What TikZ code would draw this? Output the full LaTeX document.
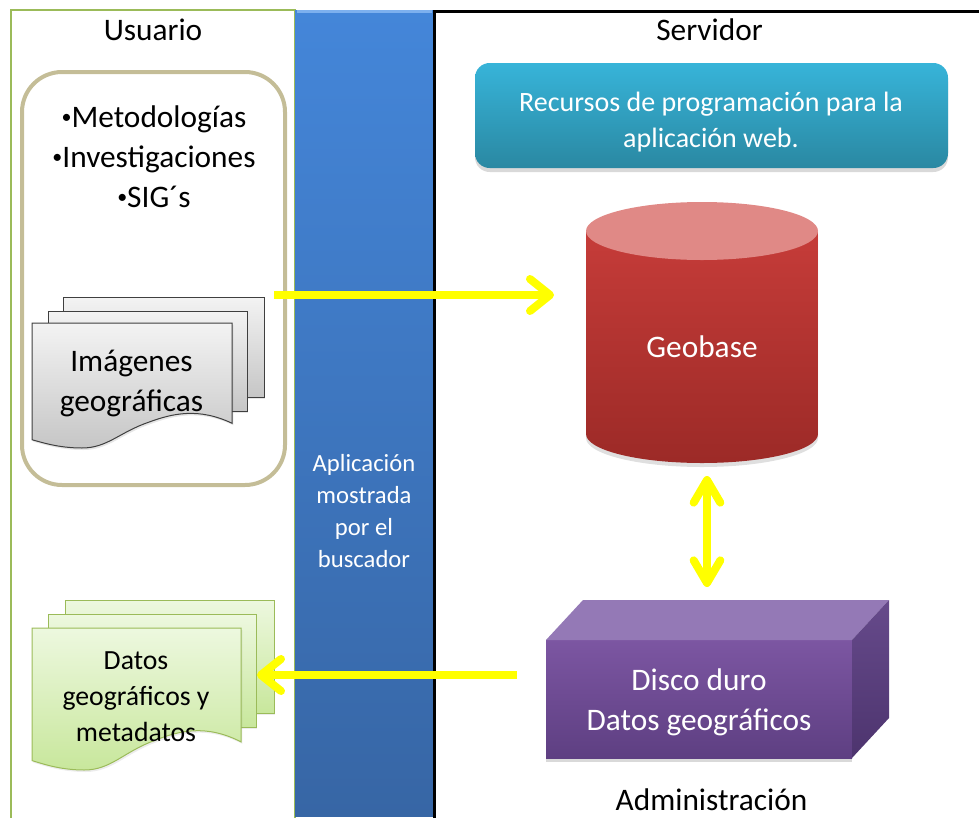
\documentclass[tikz,border=0pt]{standalone}
\usepackage{fontspec}
\setmainfont{Carlito}
\usetikzlibrary{arrows.meta,shadows}

\definecolor{panelgreen}{HTML}{9BBB59}
\definecolor{tanframe}{HTML}{C4BD97}
\definecolor{colblueA}{HTML}{4486D9}
\definecolor{colblueB}{HTML}{3766A5}
\definecolor{colblueEdge}{HTML}{7DB0EE}
\definecolor{docgrayA}{HTML}{F3F3F3}
\definecolor{docgrayB}{HTML}{C6C6C6}
\definecolor{docgrayLine}{HTML}{3F3F3F}
\definecolor{docgreenA}{HTML}{EDF8DF}
\definecolor{docgreenB}{HTML}{C8E79C}
\definecolor{cyanA}{HTML}{37B4D9}
\definecolor{cyanB}{HTML}{2A88A2}
\definecolor{cylTop}{HTML}{E08986}
\definecolor{cylA}{HTML}{C63C39}
\definecolor{cylB}{HTML}{9C2A27}
\definecolor{boxFrontA}{HTML}{7C56A2}
\definecolor{boxFrontB}{HTML}{5E3F82}
\definecolor{boxTop}{HTML}{9479B6}
\definecolor{boxSideA}{HTML}{664A8B}
\definecolor{boxSideB}{HTML}{4D346E}
\definecolor{flowyellow}{HTML}{FFFF00}

% small list bullet
\newcommand{\listbul}{\raisebox{3.3pt}{\fontsize{15}{15}\selectfont •}}

% a single sheet with the wavy lower edge, drawn in a unit box
\newcommand{\wavysheet}[5]{%
  \begin{scope}[shift={(#1,#2)}, x={(#3,0)}, y={(0,#4)}]
    \path[#5] (0,0) -- (1,0) -- (1,0.802)
      .. controls (0.833,0.676) and (0.704,0.722) .. (0.583,0.794)
      .. controls (0.438,0.873) and (0.377,1) .. (0.25,1)
      .. controls (0.129,1) and (0.044,0.952) .. (0,0.934) -- cycle;
  \end{scope}}

\begin{document}
\begin{tikzpicture}[x=0.75pt, y=-0.75pt,
  title/.style={font=\fontsize{23.5}{30}\selectfont, text=black, inner sep=0pt},
  graysheet/.style={draw=docgrayLine, line width=0.75pt, top color=docgrayA, bottom color=docgrayB,
                    drop shadow={opacity=0.2, shadow xshift=1pt, shadow yshift=-1.5pt}},
  greensheet/.style={draw=panelgreen, line width=0.75pt, top color=docgreenA, bottom color=docgreenB,
                    drop shadow={opacity=0.15, shadow xshift=1pt, shadow yshift=-1.5pt}},
  yarrow/.style={draw=flowyellow, line width=6pt,
                 -{Straight Barb[length=15pt, width=24pt, round]}},
  ydouble/.style={draw=flowyellow, line width=6pt,
                 {Straight Barb[length=17pt, width=20pt, round]}-{Straight Barb[length=17pt, width=20pt, round]}}
]
\useasboundingbox (0,0) rectangle (979,818);

% ---------- panels ----------
\begin{scope}
  \clip (0,0) rectangle (979,818);
  \draw[panelgreen, line width=1.5pt] (11,830) -- (11,10) -- (295,10) -- (295,830);
  \path[top color=colblueA, bottom color=colblueB] (295,10) rectangle (434,816);
  \draw[colblueEdge, line width=2pt] (297,11.5) -- (432,11.5);
  \draw[black, line width=2.25pt] (434,830) -- (434,11) -- (995,11);
\end{scope}

% ---------- titles ----------
\node[title, anchor=base] (usuario) at (153,40) {Usuario};
\node[title, anchor=base] (servidor) at (709.5,40) {Servidor};
\node[title, anchor=base] (admin) at (711.5,810) {Administración};

% ---------- user sources ----------
\draw[tanframe, line width=3pt, rounded corners=30pt] (22,72) rectangle (285,485);
\node[title, align=center] (fuentes) at (154,157)
  {\listbul Metodologías\\\listbul Investigaciones\\\listbul SIG´s};

% stack of image sheets
\path[graysheet] (63,297) rectangle (264,397);
\path[graysheet] (48,311) rectangle (247,411);
\wavysheet{32}{323}{200}{125}{graysheet}
\node[title, align=center] (imagenes) at (131.5,383) {Imágenes\\geográficas};

% stack of data sheets
\path[greensheet] (65,600) rectangle (274,713);
\path[greensheet] (48,614) rectangle (256,727);
\wavysheet{32}{628}{209}{142}{greensheet}
\node[align=center, inner sep=0pt, font=\fontsize{20.8}{27}\selectfont] (datos) at (136,697)
  {Datos\\geográficos y\\metadatos};

% ---------- browser column ----------
\node[align=center, inner sep=0pt, text=white, font=\fontsize{18.5}{24}\selectfont] (aplicacion) at (364,511)
  {Aplicación\\mostrada\\por el\\buscador};

% ---------- server ----------
\node[rounded corners=11pt, minimum width=354.75pt, minimum height=78.75pt, inner sep=0pt,
      top color=cyanA, bottom color=cyanB,
      drop shadow={opacity=0.3, shadow xshift=0pt, shadow yshift=-3pt}] (recursos) at (711.5,115.5) {};
\node[align=center, inner sep=0pt, text=white, font=\fontsize{21}{26.3}\selectfont] (recursostxt) at (711,122)
  {Recursos de programación para la\\aplicación web.};

% database cylinder
\path[top color=cylA, bottom color=cylB,
      drop shadow={opacity=0.25, shadow xshift=0pt, shadow yshift=-3pt}]
  (586,231) -- (586,434)
  .. controls (586,450) and (638,463) .. (702,463)
  .. controls (766,463) and (818,450) .. (818,434) -- (818,231) -- cycle;
\fill[cylTop] (702,231) ellipse [x radius=116, y radius=29];
\node[anchor=base, inner sep=0pt, text=white, font=\fontsize{23.5}{30}\selectfont] (geobase) at (702,357) {Geobase};

% hard disk box
\path[top color=boxFrontA, bottom color=boxFrontB,
      drop shadow={opacity=0.3, shadow xshift=0pt, shadow yshift=-3pt}] (546,640) rectangle (852,758);
\fill[boxTop] (546,640) -- (583,600) -- (889,600) -- (852,640) -- cycle;
\path[top color=boxSideA, bottom color=boxSideB] (852,640) -- (889,600) -- (889,718) -- (852,758) -- cycle;
\node[align=center, inner sep=0pt, text=white, font=\fontsize{23.5}{30}\selectfont] (disco) at (699,702)
  {Disco duro\\Datos geográficos};

% ---------- flows ----------
\coordinate (imgout) at (274,295);
\coordinate (geoin) at (554,295);
\coordinate (geobot) at (707,476);
\coordinate (disktop) at (707,587);
\coordinate (diskout) at (517,675);
\coordinate (datain) at (257,675);

\draw[yarrow] (imgout) -- (geoin);
\draw[ydouble] (geobot) -- (disktop);
\draw[yarrow] (diskout) -- (datain);

\end{tikzpicture}
\end{document}
